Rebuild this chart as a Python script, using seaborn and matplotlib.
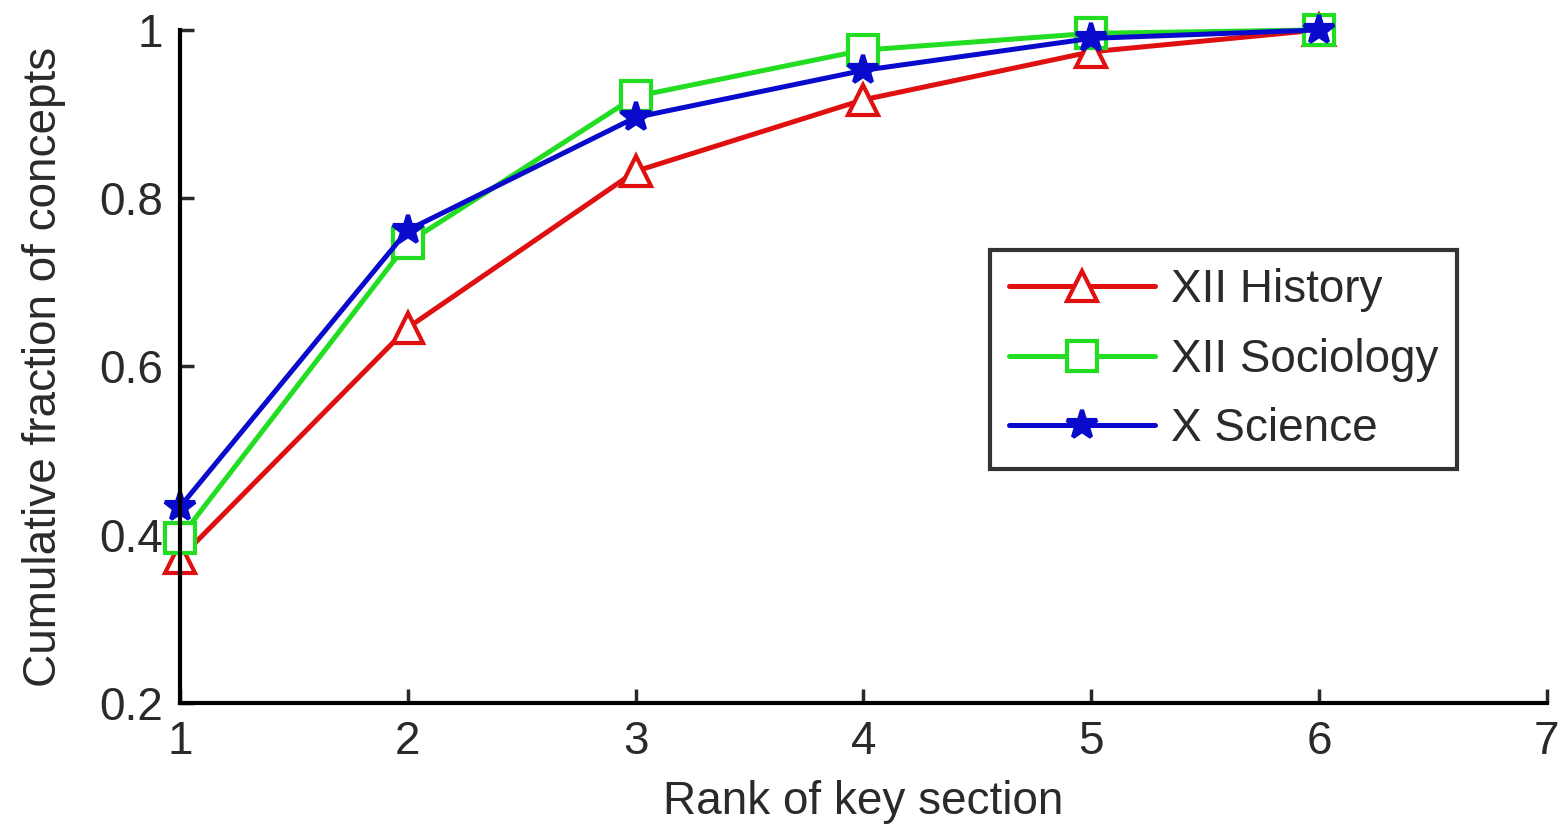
import numpy as np
import pandas as pd
import seaborn as sns
import matplotlib.pyplot as plt

sns.set_style("white")
plt.rcParams['font.family'] = ['Liberation Sans', 'DejaVu Sans']

rank = [1, 2, 3, 4, 5, 6]
history = [0.372, 0.646, 0.832, 0.917, 0.974, 1.0]
sociology = [0.396, 0.747, 0.921, 0.976, 0.996, 1.0]
science = [0.433, 0.762, 0.896, 0.952, 0.990, 1.0]

series = [
    ("XII History", history, "#e01010", "^", "white"),
    ("XII Sociology", sociology, "#22dd22", "s", "white"),
    ("X Science", science, "#0a0acc", "*", "#0a0acc"),
]

f = plt.figure(figsize=(15.64, 8.32), dpi=100)
ax = f.add_axes([0.115, 0.155, 0.874, 0.809])

for name, vals, col, mk, fc in series:
    d = pd.DataFrame({"rank": rank, "frac": vals})
    sns.lineplot(data=d, x="rank", y="frac", ax=ax, color=col, linewidth=3.6,
                 marker=mk, markersize=22, markerfacecolor=fc,
                 markeredgecolor=col, markeredgewidth=3, label=name,
                 clip_on=False)

ax.set_xlim(1, 7)
ax.set_ylim(0.2, 1.0)
ax.set_xticks([1, 2, 3, 4, 5, 6, 7])
ax.set_yticks([0.2, 0.4, 0.6, 0.8, 1.0])
ax.set_yticklabels(["0.2", "0.4", "0.6", "0.8", "1"])
ax.tick_params(direction="in", length=10, width=2.5, labelsize=33,
               colors="#2a2a2a", pad=12, bottom=True, left=True)
for s in ["top", "right"]:
    ax.spines[s].set_visible(False)
for s in ["left", "bottom"]:
    ax.spines[s].set_linewidth(3)
    ax.spines[s].set_color("black")

ax.set_xlabel("Rank of key section", fontsize=33, color="#2a2a2a", labelpad=12)
ax.set_ylabel("Cumulative fraction of concepts", fontsize=33, color="#2a2a2a",
              labelpad=24)

leg = ax.legend(loc="upper left", bbox_to_anchor=(0.593, 0.673), fontsize=33,
                frameon=True, fancybox=False, handlelength=3.2,
                borderpad=0.4, labelspacing=0.55, handletextpad=0.35,
                borderaxespad=0)
leg.get_frame().set_edgecolor("black")
leg.get_frame().set_linewidth(3)
for t in leg.get_texts():
    t.set_color("#2a2a2a")

f.savefig("out.png", dpi=100, facecolor="white")
